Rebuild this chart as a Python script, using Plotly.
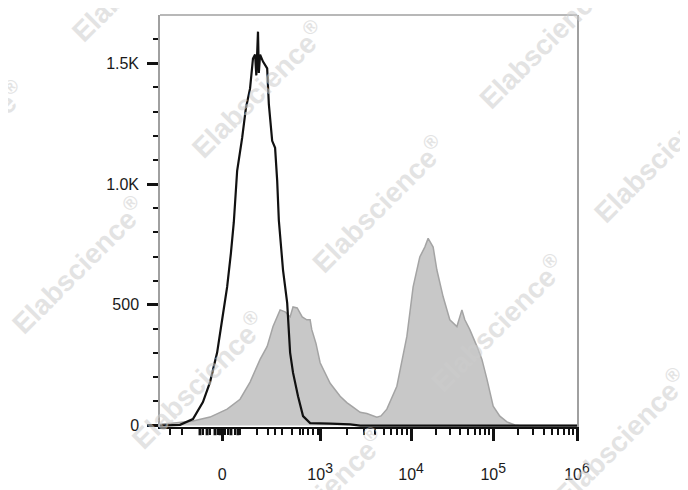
import plotly.graph_objects as go
import numpy as np

# ---- data (x in biexponential display channels 0..1000, y in event counts) ----
black_x = [0, 36, 48, 79, 103, 120, 137, 149, 161, 170, 177, 185, 197, 206, 216, 223, 228, 231,
           235, 237, 240, 247, 257, 261, 269, 276, 281, 285, 295, 305, 312, 319, 331, 343, 360,
           408, 456, 480, 1000]
black_y = [0, 0, 3, 27, 97, 180, 302, 438, 574, 713, 842, 1055, 1191, 1314, 1396, 1520, 1536, 1450,
           1631, 1460, 1536, 1507, 1479, 1331, 1179, 1150, 1014, 849, 644, 508, 302, 219, 121, 39, 10,
           8, 5, 0, 0]

grey_x = [0, 12, 40, 79, 120, 161, 192, 216, 240, 257, 271, 288, 300, 312, 319, 329, 336, 341,
          352, 360, 364, 374, 384, 396, 408, 432, 448, 463, 480, 496, 520, 530, 544, 568, 592,
          607, 623, 635, 643, 655, 664, 679, 695, 712, 724, 731, 743, 760, 772, 784, 799, 815,
          832, 851, 863, 1000]
grey_y = [5, 8, 12, 19, 35, 68, 109, 180, 274, 328, 410, 479, 471, 450, 491, 487, 466, 450,
          438, 438, 397, 340, 260, 220, 175, 121, 95, 76, 55, 50, 35, 40, 68, 163, 369,
          574, 698, 739, 775, 739, 644, 533, 438, 410, 479, 438, 397, 328, 274, 192, 80, 39,
          15, 2, 0, 0]

x_tick_vals = [149, 384, 602, 799, 1000]
x_tick_base = ["0", "10", "10", "10", "10"]
x_tick_exp = ["", "3", "4", "5", "6"]
near_zero_minor = [24, 53, 96, 103, 113, 120, 132, 139, 144, 156, 163, 170, 180, 187, 192,
                   233, 259, 276, 293, 317, 336, 343, 355, 367, 379]
near_zero_mid = [96, 113, 132, 144, 170, 187]

y_tick_vals = [0, 500, 1000, 1500]
y_tick_text = ["0", "500", "1.0K", "1.5K"]

watermark = "Elabscience<sup>®</sup>"
watermark_px = [(545, 40), (660, 155),
                (138, -27), (258, 90), (378, 205), (497, 325), (620, 440),
                (-42, 150), (78, 267), (198, 383), (318, 500)]

# ---- derived tick positions / labels ----
x_tick_text = [b + (f'<sup><span style="font-size:14px">{e}</span></sup>' if e else "")
               for b, e in zip(x_tick_base, x_tick_exp)]
decades = x_tick_vals[1:]
x_minor = list(near_zero_minor)
for a, b in zip(decades[:-1], decades[1:]):
    for m in range(2, 10):
        x_minor.append(a + (b - a) * np.log10(m))
y_minor = [v for v in range(100, 1700, 100) if v % 500 != 0]

# page has an 8px body offset; place plot area at x 160..577, y 15..430 of the window
OFF = 8
W, H = 688 - OFF, 490 - OFF
L, R, T, B = 160 - OFF, 111, 15 - OFF, 60
pw, ph = W - L - R, H - T - B

fig = go.Figure()
fig.add_trace(go.Scatter(x=grey_x, y=grey_y, mode="lines", fill="tozeroy",
                         fillcolor="#c8c8c8", line=dict(color="#a4a4a4", width=1.5),
                         showlegend=False, hoverinfo="skip"))
fig.add_trace(go.Scatter(x=black_x, y=black_y, mode="lines",
                         line=dict(color="#111111", width=2.2),
                         showlegend=False, hoverinfo="skip"))

font_family = "Arial, Liberation Sans, sans-serif"

shapes = [dict(type="line", xref="paper", yref="paper", x0=0, x1=1, y0=1, y1=1,
               line=dict(color="#a0a0a0", width=1.5))]
# slightly heavier ticks inside the cluster around zero
for v in near_zero_mid:
    shapes.append(dict(type="line", xref="x", yref="paper", x0=v, x1=v, y0=0, y1=-0.02,
                       line=dict(color="#111", width=3)))

fig.update_layout(
    width=W, height=H,
    margin=dict(l=L, r=R, t=T, b=B),
    paper_bgcolor="white", plot_bgcolor="white",
    font=dict(family=font_family, color="#1a1a1a"),
    xaxis=dict(range=[0, 1000], tickmode="array", tickvals=x_tick_vals, ticktext=x_tick_text,
               ticks="outside", ticklen=12, tickwidth=2.5, tickcolor="#111",
               showline=True, linecolor="#111", linewidth=2, showgrid=False, zeroline=False,
               tickfont=dict(size=16, color="#1a1a1a"), ticklabelstandoff=20,
               minor=dict(tickmode="array", tickvals=x_minor, ticks="outside", ticklen=6,
                          tickwidth=1.5, tickcolor="#111", showgrid=False)),
    yaxis=dict(range=[-6, 1700], tickmode="array", tickvals=y_tick_vals, ticktext=y_tick_text,
               ticks="outside", ticklen=11, tickwidth=2.5, tickcolor="#111",
               showline=True, linecolor="#a0a0a0", linewidth=1.5, mirror=True,
               showgrid=False, zeroline=False,
               tickfont=dict(size=16, color="#1a1a1a"), ticklabelstandoff=5,
               minor=dict(tickmode="array", tickvals=y_minor, ticks="outside", ticklen=5,
                          tickwidth=2, tickcolor="#111", showgrid=False)),
    shapes=shapes,
)

for (px, py) in watermark_px:
    fig.add_annotation(text=watermark, xref="paper", yref="paper",
                       x=(px - OFF - L) / pw, y=(H + OFF - B - py) / ph,
                       xanchor="center", yanchor="middle", showarrow=False,
                       textangle=-45, opacity=0.55,
                       font=dict(family=font_family, size=28, color="#cdcdcd", weight="bold"))

fig.write_html("out.html")
